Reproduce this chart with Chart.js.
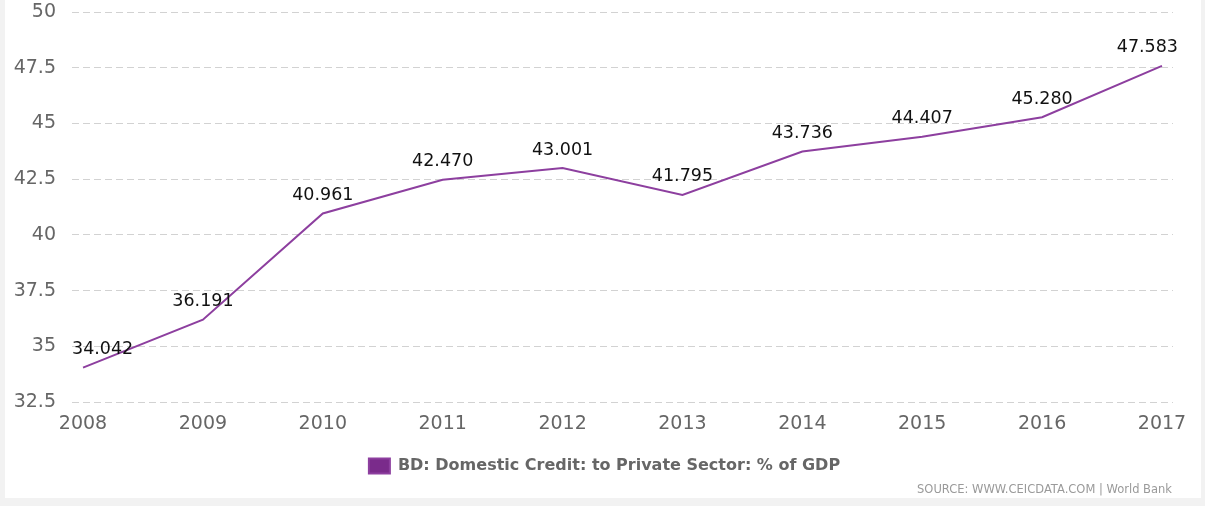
<!DOCTYPE html>
<html>
<head>
<meta charset="utf-8">
<script src="https://cdn.jsdelivr.net/npm/chart.js@4"></script>
<style>
  html, body { margin: 0; padding: 0; background: #f2f2f2; }
  #panel { position: absolute; left: 5px; top: 0; width: 1196px; height: 498px; background: #fff; }
  #wrap { position: absolute; left: 0; top: 0; width: 1205px; height: 498px; }
  #source { position: absolute; right: 33px; top: 482px; font: 11.5px "DejaVu Sans", sans-serif; color: #9a9a9a; }
</style>
</head>
<body>
<div id="panel"></div>
<div id="wrap"><canvas id="creditChart"></canvas></div>
<div id="source">SOURCE: WWW.CEICDATA.COM | World Bank</div>
<script>
// years on the x axis
var years = [2008, 2009, 2010, 2011, 2012, 2013, 2014, 2015, 2016, 2017];
// BD: Domestic Credit: to Private Sector: % of GDP
var creditValues = [34.042, 36.191, 40.961, 42.470, 43.001, 41.795, 43.736, 44.407, 45.280, 47.583];
var seriesLabel = 'BD: Domestic Credit: to Private Sector: % of GDP';
var yTicks = [32.5, 35, 37.5, 40, 42.5, 45, 47.5, 50];

var lineColor = '#8d3f9f';
var legendColor = '#7a2b8b';

// value labels above each point, kept inside the plot area
var valueLabels = {
  id: 'valueLabels',
  afterDatasetsDraw: function (chart) {
    var ctx = chart.ctx;
    var meta = chart.getDatasetMeta(0);
    var area = chart.chartArea;
    ctx.save();
    ctx.font = '17.5px "DejaVu Sans", sans-serif';
    ctx.fillStyle = '#111';
    ctx.textBaseline = 'middle';
    ctx.textAlign = 'left';
    meta.data.forEach(function (pt, i) {
      var txt = creditValues[i].toFixed(3);
      var w = ctx.measureText(txt).width;
      var x = pt.x - w / 2;
      if (x < area.left) x = area.left;
      if (x + w > area.right + 5) x = area.right + 5 - w;
      ctx.fillText(txt, x, pt.y - 18);
    });
    ctx.restore();
  }
};

// center the legend on the whole canvas, not on the padded box
var legendCenter = {
  id: 'legendCenter',
  afterLayout: function (chart) {
    if (chart.legend) {
      chart.legend.left = 0;
      chart.legend.right = chart.width + 4;
    }
  }
};

new Chart(document.getElementById('creditChart'), {
  type: 'line',
  data: {
    datasets: [{
      label: seriesLabel,
      data: years.map(function (y, i) { return { x: y, y: creditValues[i] }; }),
      borderColor: lineColor,
      backgroundColor: legendColor,
      borderWidth: 2,
      tension: 0,
      pointRadius: 0,
      pointHoverRadius: 0
    }]
  },
  options: {
    responsive: true,
    maintainAspectRatio: false,
    animation: false,
    layout: { padding: { left: 0, right: 32, top: 12, bottom: 14 } },
    plugins: {
      tooltip: { enabled: false },
      legend: {
        position: 'bottom',
        labels: {
          boxWidth: 21,
          boxHeight: 15,
          padding: 12,
          color: '#666',
          font: { family: 'DejaVu Sans', size: 16, weight: 'bold' }
        }
      }
    },
    scales: {
      x: {
        type: 'linear',
        min: 2007.908,
        max: 2017.092,
        grid: { display: false },
        border: { display: false },
        afterBuildTicks: function (axis) {
          axis.ticks = years.map(function (v) { return { value: v }; });
        },
        afterFit: function (axis) { axis.height = 44; },
        ticks: {
          color: '#666',
          padding: 3,
          maxRotation: 0,
          font: { family: 'DejaVu Sans', size: 19 },
          callback: function (v) { return String(v); }
        }
      },
      y: {
        min: 32.5,
        max: 50,
        afterBuildTicks: function (axis) {
          axis.ticks = yTicks.map(function (v) { return { value: v }; });
        },
        afterFit: function (axis) {
          axis.width = 72;
          axis.paddingTop = 0;
          axis.paddingBottom = 0;
        },
        border: { display: false, dash: [7, 4] },
        grid: { color: '#d2d2d2', lineWidth: 1, drawTicks: false },
        ticks: {
          color: '#666',
          padding: 16,
          font: { family: 'DejaVu Sans', size: 19 }
        }
      }
    }
  },
  plugins: [valueLabels, legendCenter]
});
</script>
</body>
</html>
